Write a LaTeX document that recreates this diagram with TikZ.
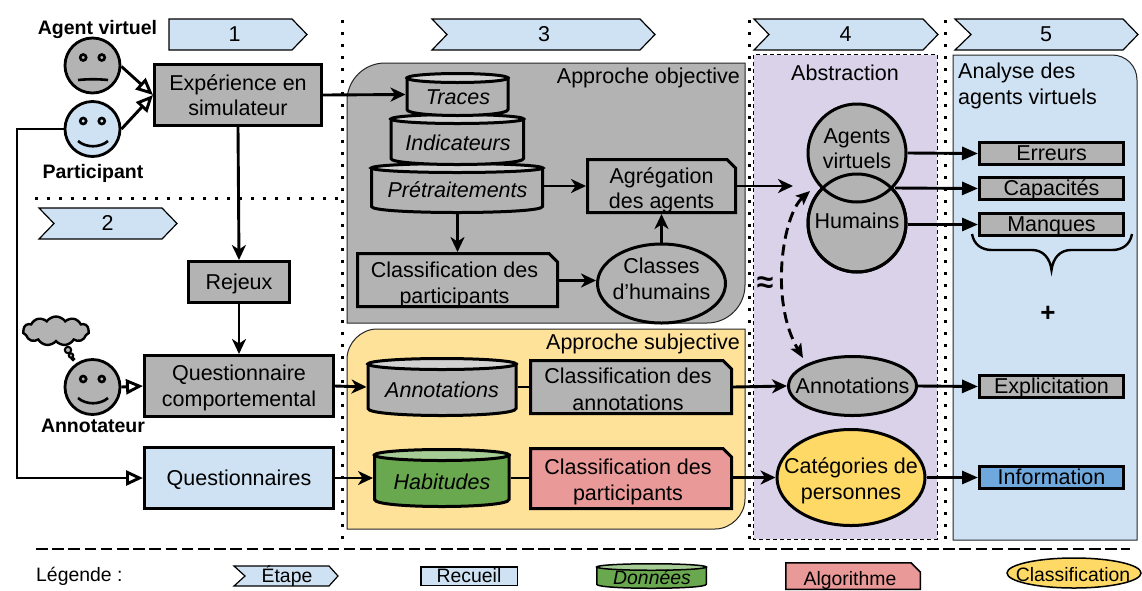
\documentclass[tikz,border=0pt]{standalone}
\usepackage{fontspec}
\setmainfont{Liberation Sans}
\usetikzlibrary{arrows.meta,shapes.geometric,shapes.symbols}
\definecolor{cgrey}{HTML}{B3B3B3}
\definecolor{cgreyt}{HTML}{D2D2D2}
\definecolor{cgreen}{HTML}{6AA84F}
\definecolor{cgreent}{HTML}{A6CC96}
\definecolor{cblue}{HTML}{CFE2F3}
\definecolor{cyel}{HTML}{FFE29A}
\definecolor{cpur}{HTML}{D9D2E9}
\definecolor{cred}{HTML}{EA9999}
\definecolor{cor}{HTML}{FFD966}
\definecolor{cdblue}{HTML}{6FA8DC}
\newcommand{\fmain}{\fontsize{21.5}{25.5}\selectfont}
\newcommand{\fleg}{\fontsize{19.4}{23}\selectfont}
\newcommand{\fbold}{\fontsize{19.5}{23}\selectfont\bfseries}
\tikzset{
  txt/.style={font=\fmain,align=center,inner sep=0pt,yshift=-2pt},
  legtxt/.style={font=\fleg,align=center,inner sep=0pt,yshift=-2pt},
  boldtxt/.style={font=\fbold,inner sep=0pt,yshift=-2pt},
  ital/.style={font=\fmain\itshape,inner sep=0pt,yshift=-2pt},
  ghost/.style={inner sep=0pt,outer sep=0pt},
  conn/.style={line width=2.9pt,-{Stealth[length=15pt,width=14pt,inset=4.5pt]}},
  hollow/.style={line width=2.9pt,-{Triangle[open,length=17pt,width=15pt,line width=2.9pt]}},
  solidtip/.style={line width=2.9pt,-{Triangle[length=16pt,width=13pt]}},
  plain/.style={line width=2.9pt},
  dotline/.style={line width=3pt,dash pattern=on 3pt off 9pt},
  panel/.style={line width=1pt,draw=black!85},
  oval/.style={ellipse,draw,line width=3pt,inner sep=0pt},
}
% rectangle: name,x1,y1,x2,y2,fill,linewidth,text
\newcommand{\bx}[8]{\node[draw,line width=#7pt,fill=#6,minimum width=#4pt-#2pt-#7pt,minimum height=#5pt-#3pt-#7pt,inner sep=0pt] (#1) at ({(#2+#4)/2},{(#3+#5)/2}) {};
\node[txt] (#1-t) at (#1) {#8};}
% dog-ear: name,x1,y1,x2,y2,fill,linewidth
\newcommand{\dog}[7]{\draw[line width=#7pt,fill=#6,line join=miter] (#2+#7/2,#3+#7/2) -- (#4-10,#3+#7/2) -- (#4-#7/2,#3+10) -- (#4-#7/2,#5-#7/2) -- (#2+#7/2,#5-#7/2) -- cycle;
\node[ghost,minimum width=#4pt-#2pt,minimum height=#5pt-#3pt] (#1) at ({(#2+#4)/2},{(#3+#5)/2}) {};}
% cylinder: name,x1,y1,x2,y2,fill,topfill,ry,linewidth
\newcommand{\cyl}[9]{\draw[line width=#9pt,fill=#6] (#2+#9/2,#3+#8) -- (#2+#9/2,#5-#8-#9/2) .. controls (#2+#9/2,#5+#8/3-#9/2) and (#4-#9/2,#5+#8/3-#9/2) .. (#4-#9/2,#5-#8-#9/2) -- (#4-#9/2,#3+#8) -- cycle;
\draw[line width=#9pt,fill=#7] ({(#2+#4)/2},#3+#8) ellipse [x radius={(#4-#2-#9)/2},y radius={#8-#9/2}];
\node[ghost,minimum width=#4pt-#2pt,minimum height=#5pt-#3pt] (#1) at ({(#2+#4)/2},{(#3+#5)/2}) {};}
% chevron: name,x1,y1,x2,y2,notch,tip,tx,text
\newcommand{\chev}[9]{\draw[line width=1.2pt,fill=cblue] (#2,#3) -- (#4-#7,#3) -- (#4,{(#3+#5)/2}) -- (#4-#7,#5) -- (#2,#5) -- (#2+#6,{(#3+#5)/2}) -- cycle;
\node[txt] (#1) at (#8,{(#3+#5)/2-0.5}) {\strut #9};}
% face: name,cx,cy,fill
\newcommand{\face}[4]{\node[circle,draw,line width=2.8pt,fill=#4,minimum size=55pt,inner sep=0pt] (#1) at (#2,#3) {};
\draw[line width=2.6pt,fill=#4] (#2-9.3,#3-8) circle[radius=3] (#2+9.3,#3-8) circle[radius=3];}
\begin{document}
\begin{tikzpicture}[x=1pt,y=-1pt]
\useasboundingbox (0,0) rectangle (1142,590);
% separators
\draw[dotline] (342,20) -- (342,543);
\draw[dotline] (749,20) -- (749,545);
\draw[dotline] (945,20) -- (945,543);
\draw[dotline] (35,198) -- (342,198);
\draw[line width=1.5pt,dash pattern=on 11.5pt off 4.7pt] (36,549) -- (1130,549);
% panels
\draw[panel,fill=cgrey] (347,323) -- (347,101) .. controls (347,80) and (364,63) .. (385,63) -- (745,63) -- (745,285) .. controls (745,306) and (728,323) .. (707,323) -- cycle;
\draw[panel,fill=cyel] (347,529) -- (347,359) .. controls (347,343) and (361,329) .. (377,329) -- (745,329) -- (745,499) .. controls (745,515) and (731,529) .. (715,529) -- cycle;
\draw[line width=1pt,dash pattern=on 4pt off 3pt,fill=cpur] (753.5,54.5) rectangle (937,539);
\draw[panel,fill=cblue] (953,55) -- (1112,55) .. controls (1126,55) and (1137,66) .. (1137,80) -- (1137,540) -- (953,540) -- cycle;
\node[txt,anchor=east] (tobj) at (740,76) {\strut Approche objective};
\node[txt,anchor=east] (tsub) at (740,342) {\strut Approche subjective};
\node[txt] (tabs) at (845,73) {\strut Abstraction};
\node[txt,align=left,anchor=north west] (tana) at (958,61) {Analyse des\\agents virtuels};
% step chevrons
\chev{s1}{169}{19}{307}{50}{0}{15}{234.5}{1}
\chev{s2}{39}{208}{177}{239}{15}{15}{107.5}{2}
\chev{s3}{432}{19}{655}{50}{15}{15}{544}{3}
\chev{s4}{754}{19}{938}{50}{15}{15}{845.5}{4}
\chev{s5}{955}{19}{1138}{50}{16}{15}{1046}{5}
% faces
\face{fav}{92.5}{65.5}{cgrey}
\draw[line width=2.6pt] (78,80) .. controls (88,79) and (98,79) .. (108,80);
\face{fpa}{92.5}{129}{cblue}
\draw[line width=2.6pt] (78,141) .. controls (86,148) and (100,148) .. (108,141);
\face{fan}{92.5}{387}{cgrey}
\draw[line width=2.6pt] (78,398) .. controls (86,405) and (100,405) .. (108,398);
\node[boldtxt] (lav) at (97.5,28) {\strut Agent virtuel};
\node[boldtxt] (lpa) at (93,172) {\strut Participant};
\node[boldtxt] (lan) at (93,426) {\strut Annotateur};
% thought cloud
\node[cloud,cloud puffs=11,cloud puff arc=110,aspect=2.4,draw,line width=2.4pt,fill=cgrey,minimum width=66pt,minimum height=29pt,inner sep=0pt] (cld) at (56,331) {};
\draw[line width=2pt,fill=cgrey] (68,350) circle[radius=3.2] (71,355.5) circle[radius=2.2] (73,359) circle[radius=1.2];
% left column
\bx{exp}{153}{63}{323}{127}{cgrey}{3}{}
\node[txt] (texp) at (238,93) {Expérience en\\simulateur};
\bx{rej}{187}{260}{291}{304}{cgrey}{3}{\strut Rejeux}
\bx{qco}{143}{354}{335}{418}{cgrey}{3}{Questionnaire\\comportemental}
\bx{qst}{143}{446}{335}{510}{cblue}{3}{\strut Questionnaires}
% objective
\cyl{pre}{370}{162}{544}{214}{cgrey}{cgreyt}{6}{3}
\cyl{ind}{389.5}{113}{525}{166}{cgrey}{cgreyt}{6}{3}
\cyl{tra}{405.5}{72}{509.5}{117}{cgrey}{cgreyt}{6}{3}
\node[ital] (ttra) at (458,97.5) {\strut Traces};
\node[ital] (tind) at (458,143) {\strut Indicateurs};
\node[ital] (tpre) at (457.5,190) {\strut Prétraitements};
\dog{agg}{586}{158}{737}{214}{cgrey}{3}
\node[txt] (tagg) at (661.5,188.5) {Agrégation\\des agents};
\dog{cpa}{356}{252}{559}{308}{cgrey}{3}
\node[txt] (tcpa) at (454.5,283) {Classification des\\participants};
\node[oval,fill=cgrey,minimum width=128pt,minimum height=79pt] (chu) at (661.5,283.5) {};
\node[txt] (tchu) at (661.5,277) {Classes\\d’humains};
% subjective
\cyl{ann}{366.5}{357}{517.5}{417}{cgrey}{cgreyt}{7}{3}
\node[ital] (tann) at (442,390) {\strut Annotations};
\dog{can}{529}{359}{733}{415}{cgrey}{3}
\node[txt,font=\fontsize{21.5}{27}\selectfont] (tcan) at (628,387) {Classification des\\annotations};
\cyl{hab}{373}{448}{510.5}{508}{cgreen}{cgreent}{7}{3}
\node[ital] (thab) at (442,482) {\strut Habitudes};
\dog{cha}{529}{447}{733}{510}{cred}{3}
\node[txt] (tcha) at (628,480) {Classification des\\participants};
% abstraction
\node[circle,draw,line width=3pt,fill=cgrey,minimum size=98pt,inner sep=0pt] (hum) at (857,223) {};
\node[circle,draw,line width=3pt,fill=cgrey,minimum size=98pt,inner sep=0pt] (age) at (857,153) {};
\draw[line width=3pt] (857,223) circle[radius=49];
\node[txt] (tage) at (857,146.5) {Agents\\virtuels};
\node[txt] (thum) at (857,221) {\strut Humains};
\node[oval,fill=cgrey,minimum width=128pt,minimum height=59pt] (ela) at (852.5,386) {};
\node[txt] (tela) at (852.5,386) {\strut Annotations};
\node[oval,fill=cor,minimum width=148pt,minimum height=96pt] (ecp) at (851,477.5) {};
\node[txt] (tecp) at (851,479) {Catégories de\\personnes};
\node[txt,font=\bfseries\fontsize{30}{30}\selectfont] (eqv) at (765,283) {≈};
% analysis
\bx{err}{978}{141}{1125}{166}{cgrey}{3}{\strut Erreurs}
\bx{cap}{978}{176}{1125}{201}{cgrey}{3}{\strut Capacités}
\bx{man}{978}{212}{1125}{237}{cgrey}{3}{\strut Manques}
\bx{exl}{978}{374}{1125}{399}{cgrey}{3}{\strut Explicitation}
\bx{inf}{978}{465}{1125}{490}{cdblue}{3}{\strut Information}
\draw[line width=2.4pt] (972,234) .. controls (974,245) and (982,250) .. (992,250) -- (1032,250) .. controls (1043,250) and (1050,258) .. (1051.5,270) .. controls (1053,258) and (1060,250) .. (1071,250) -- (1112,250) .. controls (1122,250) and (1130,245) .. (1132,234);
\node[txt,font=\bfseries\fontsize{26}{26}\selectfont] (pls) at (1048,312) {+};
% connectors
\coordinate (absin) at (793,186);
\coordinate (capst) at (895,188);
\coordinate (dashtop) at (810,191);
\coordinate (dashbot) at (803,358);
\draw[hollow] (fav) ++(29,1) -- (exp.west);
\draw[hollow] (fpa) ++(29,0) -- (exp.west);
\draw[conn] (exp.east) -- (tra.west);
\draw[conn] (exp.south) -- (rej.north);
\draw[conn] (rej.south) -- (qco.north);
\draw[hollow] (fan.east) -- (qco.west);
\draw[hollow] (fpa.west) -- (17,129) -- (17,478) -- (qst.west);
\draw[conn] (qco.east) -- (ann.west);
\draw[conn] (qst.east) -- (hab.west);
\draw[plain] (ann.east |- can.west) -- (can.west);
\draw[plain] (hab.east |- qst.east) -- (cha.west |- qst.east);
\draw[conn] (pre.east |- agg.west) -- (agg.west);
\draw[conn] (pre.south -| cpa.north) -- (cpa.north);
\draw[conn] (cpa.east |- chu.west) ++(0,-3) -- ++(37,0);
\draw[conn] (chu.north) -- (agg.south -| chu.north);
\draw[conn] (agg.east |- absin) -- (absin);
\draw[conn] (can.east) -- (ela.west);
\draw[conn] (cha.east |- ecp.west) -- (ecp.west);
\draw[solidtip] (age.east) -- (err.west);
\draw[solidtip] (capst) -- (cap.west);
\draw[solidtip] (hum.east |- man.west) -- (man.west);
\draw[solidtip] (ela.east) -- (exl.west);
\draw[solidtip] (ecp.east |- inf.west) -- (inf.west);
\draw[line width=2.9pt,dash pattern=on 11pt off 6pt,{Stealth[length=14pt,width=12pt,inset=3pt]}-{Stealth[length=14pt,width=12pt,inset=3pt]}] (dashtop) .. controls (783,215) and (769,300) .. (dashbot);
% legend
\node[legtxt,anchor=west] (tleg) at (36,575) {\strut Légende :};
\draw[line width=1.2pt,fill=cblue] (234,566) -- (329,566) -- (338,576) -- (329,586) -- (234,586) -- (245,576) -- cycle;
\node[legtxt] (lse) at (287,576) {\strut Étape};
\bx{lre}{420}{566}{518}{586}{cblue}{1.5}{\fleg\strut Recueil}
\cyl{ldo}{596}{563}{707}{589}{cgreen}{cgreent}{4}{1.5}
\node[legtxt,font=\fleg\itshape] (tldo) at (652,578) {\strut Données};
\dog{lal}{785}{562}{921}{590}{cred}{1.5}
\node[legtxt] (tlal) at (850,579) {\strut Algorithme};
\node[ellipse,draw,line width=1.5pt,fill=cor,minimum width=134pt,minimum height=30pt,inner sep=0pt] (lcl) at (1074,573) {};
\node[legtxt] (tlcl) at (1073,575) {\strut Classification};
\end{tikzpicture}
\end{document}
